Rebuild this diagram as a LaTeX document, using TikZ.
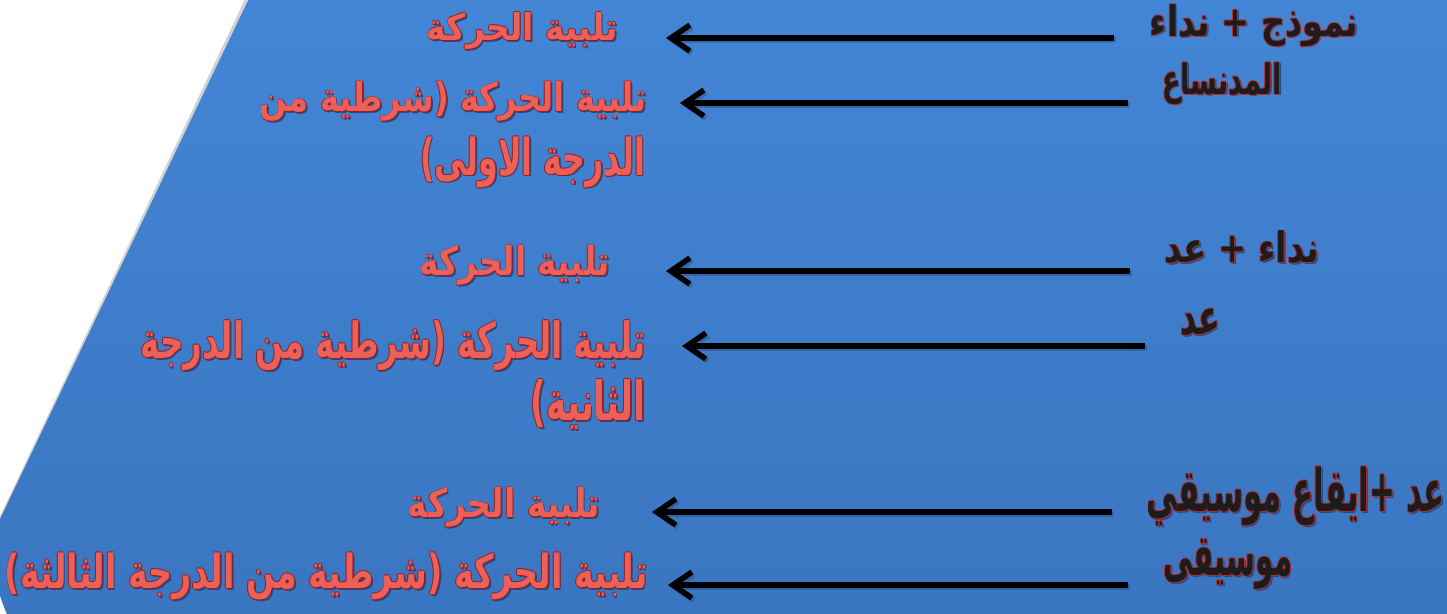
\documentclass[tikz,border=0pt]{standalone}
\usepackage{fontspec}
\usepackage{graphicx}
\usetikzlibrary{arrows.meta}
\TeXXeTstate=1
\newfontfamily\arabicfont[Script=Arabic]{DejaVu Sans Bold}
\definecolor{bgtop}{RGB}{67,134,214}
\definecolor{bgbot}{RGB}{58,117,192}
\definecolor{redfill}{RGB}{236,96,90}
\definecolor{redhalo}{RGB}{150,30,30}
\definecolor{blackfill}{RGB}{28,28,28}
\definecolor{blackhalo}{RGB}{185,45,45}
\definecolor{shadowc}{RGB}{38,74,130}
\newcommand\fancy[5]{%
  \setbox0=\hbox{\resizebox*{#3pt}{#4pt}{\hbox{#5}}}%
  \rlap{\kern1.6pt\lower1.6pt\hbox{\color{shadowc}\copy0}}%
  \rlap{\kern0.8pt\hbox{\color{#1}\copy0}}%
  \rlap{\kern-0.8pt\hbox{\color{#1}\copy0}}%
  \rlap{\raise0.8pt\hbox{\color{#1}\copy0}}%
  \rlap{\lower0.8pt\hbox{\color{#1}\copy0}}%
  \hbox{\color{#2}\copy0}}
\tikzset{
  txt/.style={inner sep=0pt, outer sep=0pt, anchor=center},
  arr/.style={line width=5.5pt, black, -{Straight Barb[length=19pt,width=26pt]}},
  arrshadow/.style={line width=6pt, shadowc, opacity=0.45, -{Straight Barb[length=19pt,width=26pt]}}
}
\begin{document}
\begin{tikzpicture}[x=1pt,y=-1pt]
\useasboundingbox (0,0) rectangle (1447,613);
\fill[white] (0,0) rectangle (1447,613);
% background panel
\draw[black!18, line width=3pt] (251,-10) -- (-12,545);
\shade[top color=bgtop, bottom color=bgbot] (1460,-10) -- (253,-10) -- (-10,540) .. controls (-5,585) and (0,600) .. (12,625) -- (1460,625) -- cycle;

% left (red) texts
\node[txt] (r1) at (522.5,31.5) {\fancy{redhalo}{redfill}{191}{37}{\arabicfont\beginR تلبية الحركة\endR}};
\node[txt] (r2) at (453.5,102) {\fancy{redhalo}{redfill}{387}{40}{\arabicfont\beginR تلبية الحركة (شرطية من\endR}};
\node[txt] (r3) at (532.5,162.5) {\fancy{redhalo}{redfill}{225}{51}{\arabicfont\beginR الدرجة الاولى)\endR}};
\node[txt] (r4) at (515,266) {\fancy{redhalo}{redfill}{190}{40}{\arabicfont\beginR تلبية الحركة\endR}};
\node[txt] (r5) at (393,346) {\fancy{redhalo}{redfill}{505}{50}{\arabicfont\beginR تلبية الحركة (شرطية من الدرجة\endR}};
\node[txt] (r6) at (588,405) {\fancy{redhalo}{redfill}{115}{50}{\arabicfont\beginR الثانية)\endR}};
\node[txt] (r7) at (504,508) {\fancy{redhalo}{redfill}{192}{40}{\arabicfont\beginR تلبية الحركة\endR}};
\node[txt] (r8) at (326.5,577) {\fancy{redhalo}{redfill}{643}{47}{\arabicfont\beginR تلبية الحركة (شرطية من الدرجة الثالثة)\endR}};

% right (black) texts
\node[txt] (l1) at (1254,26) {\fancy{blackhalo}{blackfill}{208}{42}{\arabicfont\beginR نموذج + نداء\endR}};
\node[txt] (l2) at (1222,84) {\fancy{blackhalo}{blackfill}{120}{42}{\arabicfont\beginR المدنساع\endR}};
\node[txt] (l3) at (1242,248) {\fancy{blackhalo}{blackfill}{155}{33}{\arabicfont\beginR نداء + عد\endR}};
\node[txt] (l4) at (1200,323) {\fancy{blackhalo}{blackfill}{40}{27}{\arabicfont\beginR عد\endR}};
\node[txt] (l5) at (1296,497) {\fancy{blackhalo}{blackfill}{298}{59}{\arabicfont\beginR عد +ايقاع موسيقي\endR}};
\node[txt] (l6) at (1228,565) {\fancy{blackhalo}{blackfill}{129}{50}{\arabicfont\beginR موسيقى\endR}};

% arrow end points
\coordinate (s1) at (1114,38);  \coordinate (e1) at (666,38);
\coordinate (s2) at (1128,103); \coordinate (e2) at (680,103);
\coordinate (s3) at (1130,271); \coordinate (e3) at (666,271);
\coordinate (s4) at (1145,346); \coordinate (e4) at (682,346);
\coordinate (s5) at (1112,512); \coordinate (e5) at (652,512);
\coordinate (s6) at (1128,585); \coordinate (e6) at (668,585);

\foreach \i in {1,...,6}{
  \draw[arrshadow, transform canvas={shift={(1.5pt,-2pt)}}] (s\i) -- (e\i);
  \draw[arr] (s\i) -- (e\i);
}
\end{tikzpicture}
\end{document}
